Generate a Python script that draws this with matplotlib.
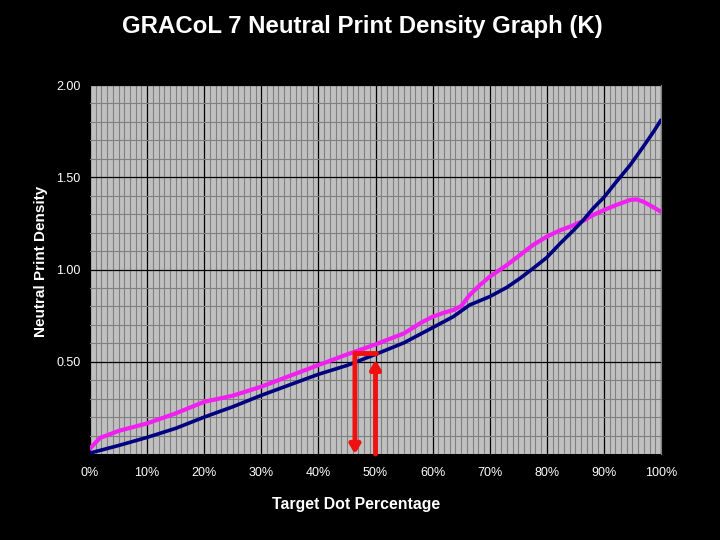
import matplotlib
matplotlib.use('Agg')
import matplotlib.pyplot as plt
from matplotlib.ticker import MultipleLocator

# GRACoL 7 target neutral print density (navy)
target_x = [0, 5, 10, 15, 20, 25, 30, 35, 40, 45, 50, 55, 60, 63.6, 66.5,
            70, 73, 75.3, 77.6, 80, 82.3, 84.6, 86.4, 88.1, 90, 92.2, 94.6,
            96.9, 98.7, 100]
target_y = [0.005, 0.046, 0.090, 0.139, 0.200, 0.256, 0.318, 0.375, 0.432,
            0.480, 0.540, 0.603, 0.685, 0.744, 0.808, 0.853, 0.903, 0.952,
            1.006, 1.065, 1.140, 1.210, 1.268, 1.331, 1.391, 1.476, 1.566,
            1.666, 1.747, 1.810]

# Measured neutral print density (magenta)
measured_x = [0, 1.75, 5, 10, 15, 20, 25, 30, 40, 45.5, 50, 55, 58, 60, 62,
              63.6, 65, 66.5, 68.3, 70, 73, 75.3, 77.6, 80, 82.3, 84.3, 86.4,
              88.1, 90, 92.2, 94.6, 95.7, 96.9, 98.7, 100]
measured_y = [0.030, 0.087, 0.125, 0.166, 0.220, 0.283, 0.316, 0.365, 0.482,
              0.545, 0.594, 0.654, 0.712, 0.744, 0.766, 0.780, 0.802, 0.862,
              0.916, 0.961, 1.024, 1.078, 1.133, 1.178, 1.212, 1.235, 1.264,
              1.295, 1.322, 1.350, 1.377, 1.380, 1.368, 1.337, 1.313]

x_ticks = [0, 10, 20, 30, 40, 50, 60, 70, 80, 90, 100]
x_tick_labels = ['0%', '10%', '20%', '30%', '40%', '50%', '60%', '70%',
                 '80%', '90%', '100%']
y_ticks = [0.5, 1.0, 1.5, 2.0]
y_tick_labels = ['0.50', '1.00', '1.50', '2.00']

# Red arrow annotation: target dot, matched dot, density level
arrow_target_dot = 50
arrow_match_dot = 46.4
arrow_density = 0.547
arrow_target_density = 0.51

plt.rcParams['font.family'] = ['Liberation Sans', 'DejaVu Sans']

fig = plt.figure(figsize=(7.2, 5.4), dpi=100, facecolor='black')
ax = fig.add_axes([90 / 720, 1 - 454 / 540, 571 / 720, 369 / 540])
ax.set_facecolor('#C0C0C0')
ax.set_xlim(0, 100)
ax.set_ylim(0, 2)
ax.set_xticks(x_ticks, x_tick_labels)
ax.set_yticks(y_ticks, y_tick_labels)
ax.xaxis.set_minor_locator(MultipleLocator(1))
ax.yaxis.set_minor_locator(MultipleLocator(0.1))
ax.grid(which='minor', color='#808080', lw=0.8)
ax.grid(which='major', color='black', lw=0.9)
ax.set_axisbelow(True)
ax.tick_params(which='both', length=0, colors='white', labelsize=9)
ax.tick_params(axis='x', pad=9)
ax.tick_params(axis='y', pad=7)
for s in ['left', 'top', 'bottom']:
    ax.spines[s].set_visible(False)
ax.spines['right'].set_color('#808080')

ax.plot(measured_x, measured_y, color='#F020F0', lw=3.0, solid_capstyle='round', zorder=3)
ax.plot(target_x, target_y, color='#000080', lw=2.6, solid_capstyle='round', zorder=4)

red = '#F01010'
ax.plot([arrow_match_dot, arrow_target_dot], [arrow_density, arrow_density],
        color=red, lw=3.5, solid_capstyle='round', zorder=5, clip_on=False)
ax.annotate('', xy=(arrow_match_dot, 0), xytext=(arrow_match_dot, arrow_density),
            arrowprops=dict(arrowstyle='-|>,head_length=0.5,head_width=0.3',
                            color=red, lw=3.5, shrinkA=0, shrinkB=0), zorder=5)
ax.annotate('', xy=(arrow_target_dot, arrow_target_density), xytext=(arrow_target_dot, 0),
            arrowprops=dict(arrowstyle='-|>,head_length=0.5,head_width=0.3',
                            color=red, lw=3.5, shrinkA=0, shrinkB=0), zorder=5)

fig.text(362 / 720, 1 - 27 / 540, 'GRACoL 7 Neutral Print Density Graph (K)',
         color='white', fontsize=17.3, fontweight='bold', ha='center', va='center')
fig.text(356 / 720, 1 - 504 / 540, 'Target Dot Percentage',
         color='white', fontsize=11.4, fontweight='bold', ha='center', va='center')
fig.text(41 / 720, 1 - 261 / 540, 'Neutral Print Density', rotation=90,
         color='white', fontsize=11, fontweight='bold', ha='center', va='center')

fig.savefig('out.png', dpi=100, facecolor='black')
